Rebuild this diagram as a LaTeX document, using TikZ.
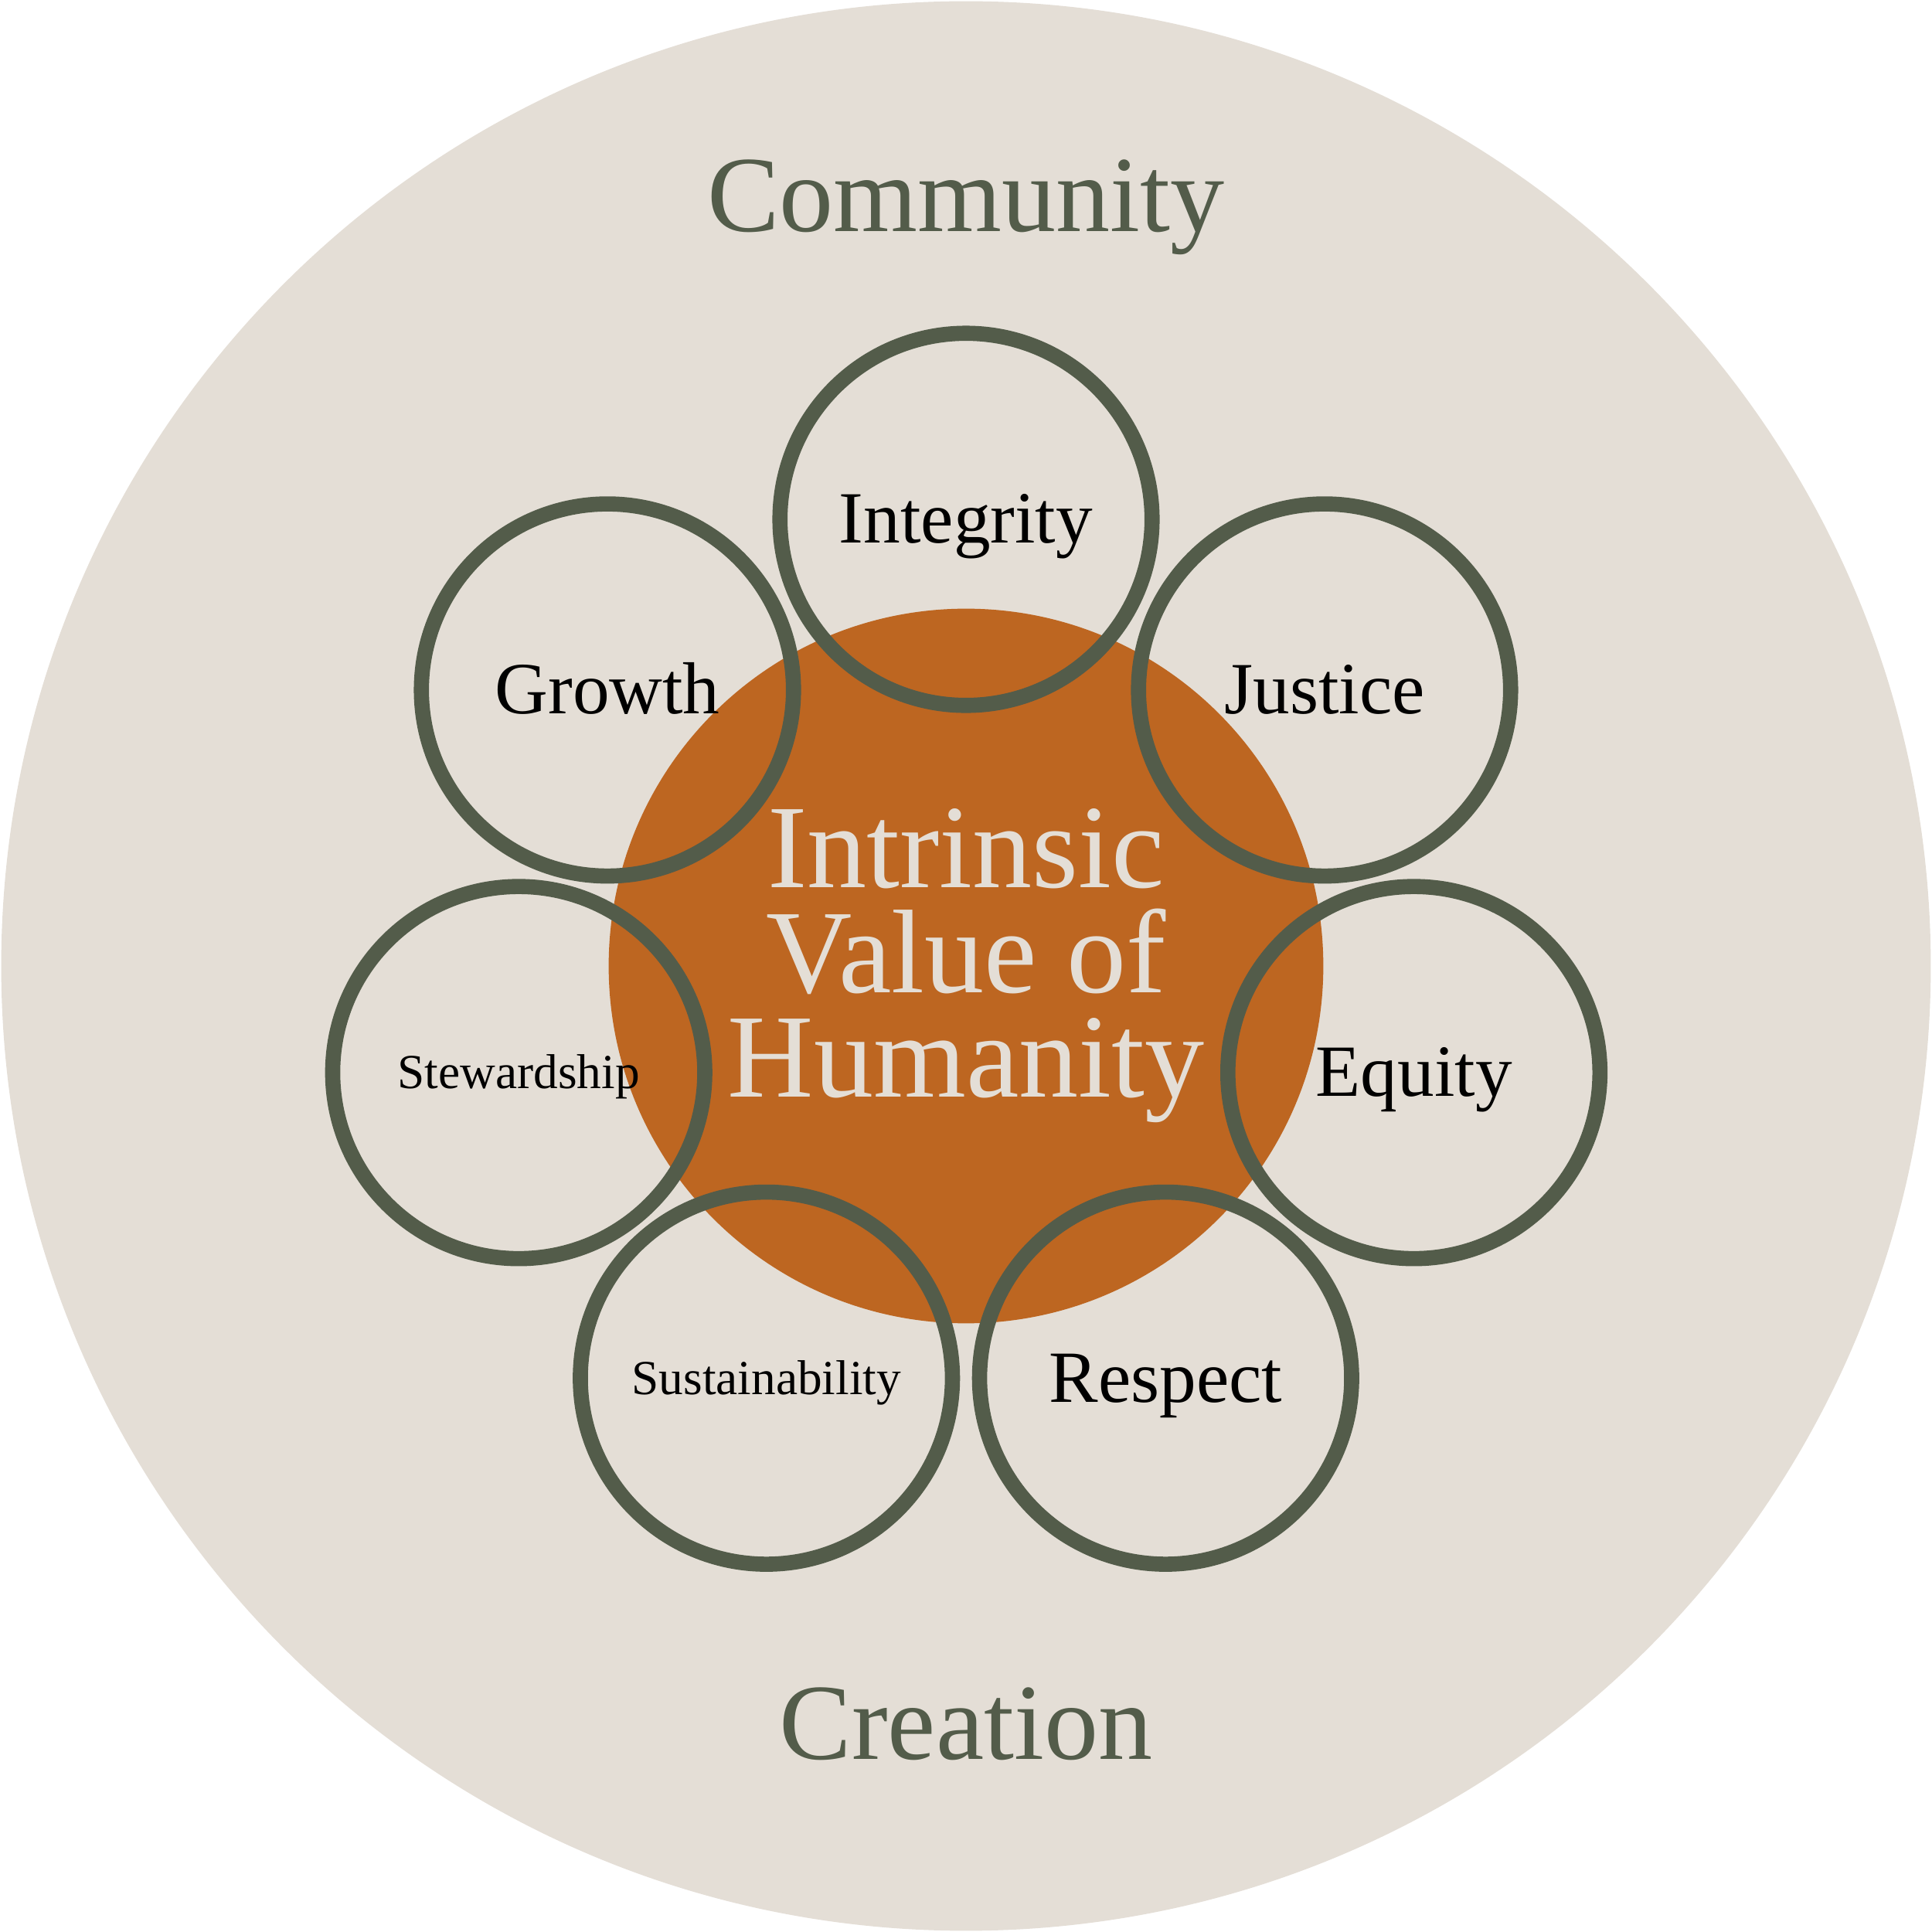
\documentclass[tikz,border=0pt]{standalone}
\usepackage{fontspec}
\setmainfont{Liberation Serif}
\definecolor{sand}{HTML}{E4DED6}
\definecolor{rust}{HTML}{BD6621}
\definecolor{moss}{HTML}{535C4A}

\begin{document}
\begin{tikzpicture}[
    ring/.style={circle, draw=moss, line width=3.5pt, minimum size=3.02cm, inner sep=0pt,
      font=\fontsize{17}{20}\selectfont, text height=11pt, text depth=0pt},
    smallring/.style={ring, font=\fontsize{11.3}{13}\selectfont, text height=7.4pt},
    realm/.style={text=moss, font=\fontsize{25}{30}\selectfont, anchor=base}
  ]
    \useasboundingbox (-7.84,-7.84) rectangle (7.84,7.84);
    \fill[sand] (0,0) circle (7.83);

    % centre
    \node[circle, fill=rust, minimum size=5.8cm, inner sep=0pt, text=sand, align=center,
      font=\fontsize{27.5}{24.2}\selectfont] (core) at (0,0) {Intrinsic\\Value of\\Humanity};

    % values around the centre
    \node[ring] (integrity) at (0, 3.625) {Integrity};
    \node[ring] (justice) at (2.91, 2.24) {Justice};
    \node[ring] (equity) at (3.635, -0.865) {Equity};
    \node[ring] (respect) at (1.62, -3.345) {Respect};
    \node[smallring] (sustain) at (-1.62, -3.345) {Sustainability};
    \node[smallring] (steward) at (-3.63, -0.865) {Stewardship};
    \node[ring] (growth) at (-2.91, 2.24) {Growth};

    \node[realm] (community) at (0, 5.96) {Community};
    \node[realm] (creation) at (0, -6.44) {Creation};
  \end{tikzpicture}
\end{document}
